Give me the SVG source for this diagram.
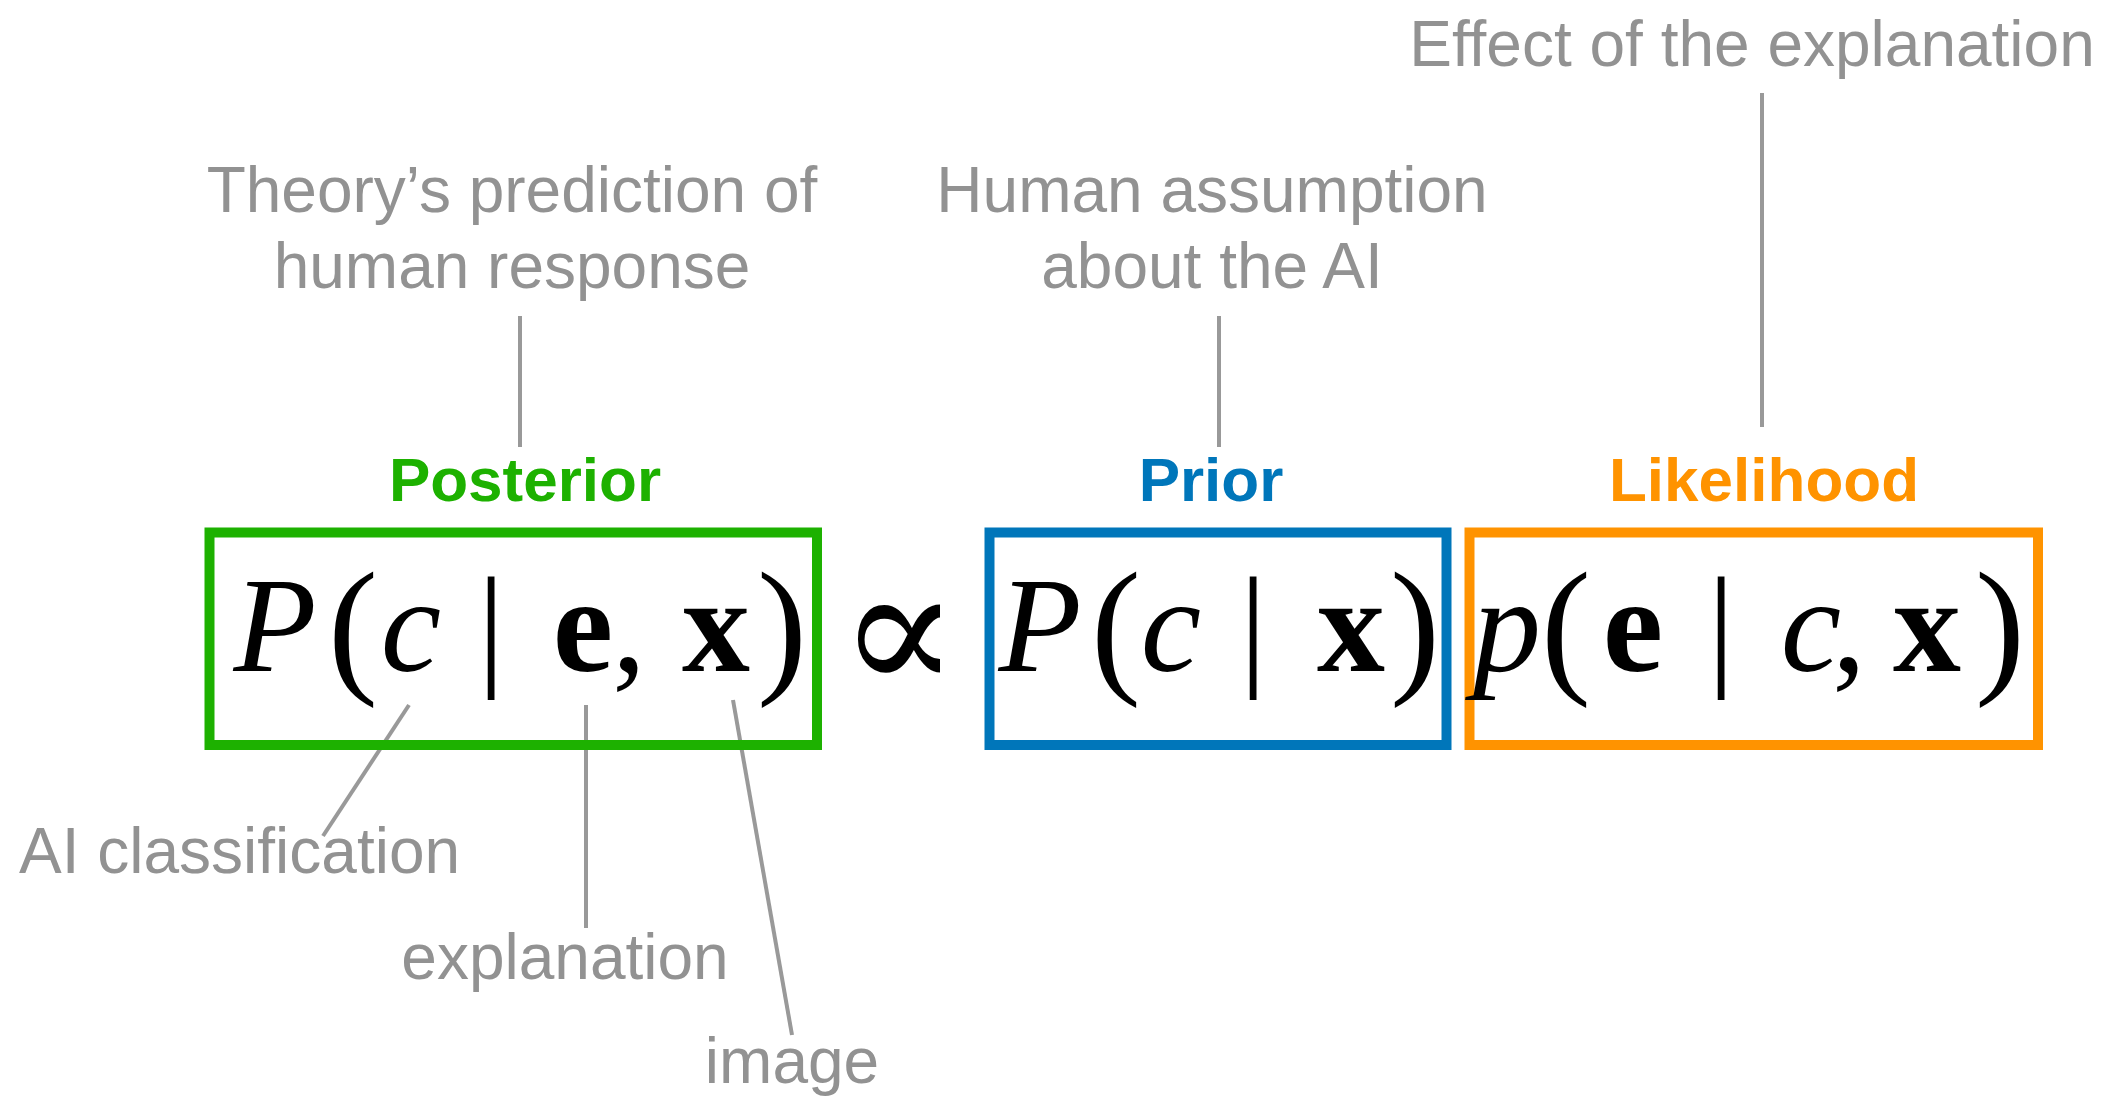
<svg xmlns="http://www.w3.org/2000/svg" width="2108" height="1099" viewBox="0 0 2108 1099">
<style>
.lbl{font-family:"Liberation Sans",Arial,sans-serif;font-size:64px;fill:#929292;}
.ttl{font-family:"Liberation Sans",Arial,sans-serif;font-size:62px;font-weight:bold;text-anchor:middle;}
.m{font-family:"Liberation Serif","DejaVu Serif",serif;font-size:136px;fill:#000;text-anchor:middle;}
.i{font-style:italic;}
.b{font-weight:bold;}
.p{font-size:150px;}
.box{fill:none;stroke-width:10;}
.con{stroke:#999999;stroke-width:4;fill:none;}
</style>
<rect width="2108" height="1099" fill="#ffffff"/>
<g id="connectors">
<line class="con" x1="520" y1="316" x2="520" y2="447"/>
<line class="con" x1="1219" y1="316" x2="1219" y2="447"/>
<line class="con" x1="1762" y1="93" x2="1762" y2="427"/>
<line class="con" x1="409" y1="705" x2="323" y2="836"/>
<line class="con" x1="586" y1="705" x2="586" y2="928"/>
<line class="con" x1="733" y1="700" x2="792" y2="1035"/>
</g>
<g id="note-effect"><text class="lbl" x="1752" y="66" text-anchor="middle">Effect of the explanation</text></g>
<g id="note-theory"><text class="lbl" x="512" y="212" text-anchor="middle">Theory’s prediction of</text><text class="lbl" x="512" y="288" text-anchor="middle">human response</text></g>
<g id="note-human"><text class="lbl" x="1212" y="212" text-anchor="middle">Human assumption</text><text class="lbl" x="1212" y="288" text-anchor="middle">about the AI</text></g>
<g id="note-ai"><text class="lbl" x="19" y="873">AI classification</text></g>
<g id="note-explanation"><text class="lbl" x="565" y="979" text-anchor="middle">explanation</text></g>
<g id="note-image"><text class="lbl" x="792" y="1083" text-anchor="middle">image</text></g>
<g id="posterior">
<text class="ttl" x="525" y="501" fill="#1DB100">Posterior</text>
<rect class="box" x="209.5" y="532.5" width="607.5" height="212.5" stroke="#1DB100"/>
<text class="m" y="671"><tspan class="i" x="275">P</tspan><tspan class="p" x="353" y="676">(</tspan><tspan class="i" x="411" y="671">c</tspan><tspan x="491">|</tspan><tspan class="b" x="583">e</tspan><tspan x="629">,</tspan><tspan class="b" x="716">x</tspan><tspan class="p" x="782" y="676">)</tspan></text>
</g>
<g id="proportional"><text class="m" x="899" y="692" style="font-family:'DejaVu Serif',serif;font-size:178px">∝</text></g>
<g id="prior">
<text class="ttl" x="1211" y="501" fill="#0076BA">Prior</text>
<rect class="box" x="989.5" y="532.5" width="457" height="212.5" stroke="#0076BA"/>
<text class="m" y="671"><tspan class="i" x="1040">P</tspan><tspan class="p" x="1116" y="676">(</tspan><tspan class="i" x="1171" y="671">c</tspan><tspan x="1253">|</tspan><tspan class="b" x="1351">x</tspan><tspan class="p" x="1415" y="676">)</tspan></text>
</g>
<g id="likelihood">
<text class="ttl" x="1764" y="501" fill="#FF9300">Likelihood</text>
<rect class="box" x="1469.5" y="532.5" width="568.5" height="212.5" stroke="#FF9300"/>
<text class="m" y="671"><tspan class="i" x="1507">p</tspan><tspan class="p" x="1566" y="676">(</tspan><tspan class="b" x="1633" y="671">e</tspan><tspan x="1721">|</tspan><tspan class="i" x="1811">c</tspan><tspan x="1849">,</tspan><tspan class="b" x="1927">x</tspan><tspan class="p" x="2000" y="676">)</tspan></text>
</g>
</svg>
